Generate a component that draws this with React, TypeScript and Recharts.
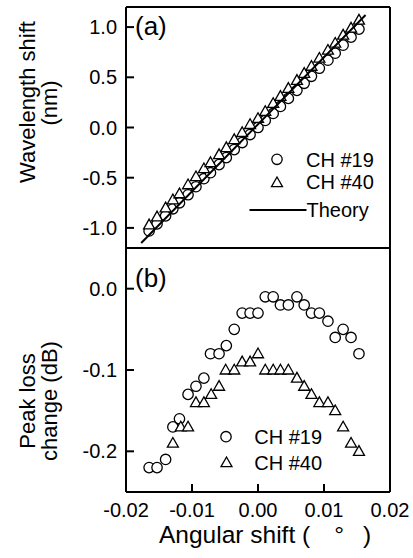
import React from 'react';
import { ComposedChart, Scatter, XAxis, YAxis, Legend } from 'recharts';

// ---------- data ----------
const angleShift = [-0.0165, -0.0153, -0.014, -0.0129, -0.0119, -0.0106, -0.0094, -0.0082, -0.0072, -0.0059, -0.0048, -0.0036, -0.0024, -0.0012, 0.0, 0.0011, 0.0023, 0.0034, 0.0046, 0.0059, 0.007, 0.0081, 0.0093, 0.0106, 0.0117, 0.0129, 0.0141, 0.0153];
const shift19 = [-1.03, -0.96, -0.88, -0.81, -0.75, -0.67, -0.59, -0.51, -0.45, -0.37, -0.3, -0.22, -0.15, -0.07, 0.0, 0.07, 0.14, 0.21, 0.29, 0.37, 0.44, 0.51, 0.59, 0.67, 0.74, 0.82, 0.9, 0.98];
const shift40 = [-0.97, -0.89, -0.8, -0.72, -0.66, -0.57, -0.49, -0.41, -0.35, -0.27, -0.2, -0.12, -0.05, 0.03, 0.09, 0.16, 0.24, 0.31, 0.39, 0.47, 0.54, 0.61, 0.69, 0.77, 0.84, 0.92, 0.99, 1.07];
const theoryAngle = [-0.0177, 0.0163];
const theoryShift = [-1.15, 1.12];

const angle19 = [-0.0165, -0.0153, -0.014, -0.0129, -0.0119, -0.0106, -0.0094, -0.0082, -0.0072, -0.0059, -0.0048, -0.0036, -0.0024, -0.0012, 0.0, 0.0011, 0.0023, 0.0034, 0.0046, 0.0059, 0.007, 0.0081, 0.0093, 0.0106, 0.0117, 0.0129, 0.0141, 0.0153];
const loss19 = [-0.22, -0.22, -0.21, -0.17, -0.16, -0.13, -0.12, -0.11, -0.08, -0.08, -0.07, -0.05, -0.03, -0.03, -0.03, -0.01, -0.01, -0.02, -0.02, -0.01, -0.02, -0.03, -0.03, -0.04, -0.06, -0.05, -0.06, -0.08];
const angle40 = [-0.0129, -0.0117, -0.0106, -0.0094, -0.0082, -0.0071, -0.0059, -0.0049, -0.0036, -0.0024, -0.0012, 0.0, 0.0011, 0.0023, 0.0034, 0.0046, 0.0059, 0.007, 0.0081, 0.0093, 0.0106, 0.0117, 0.0129, 0.0141, 0.0153];
const loss40 = [-0.19, -0.17, -0.17, -0.14, -0.14, -0.13, -0.12, -0.1, -0.1, -0.09, -0.09, -0.08, -0.1, -0.1, -0.1, -0.1, -0.11, -0.12, -0.13, -0.14, -0.14, -0.15, -0.17, -0.19, -0.2];

const xMajor = [-0.02, -0.01, 0, 0.01, 0.02];
const xMinor = [-0.015, -0.005, 0.005, 0.015];
const xLabels = ['-0.02', '-0.01', '0.00', '0.01', '0.02'];
const topMajor = [-1, -0.5, 0, 0.5, 1];
const topMinor = [-0.75, -0.25, 0.25, 0.75];
const topLabels = ['-1.0', '-0.5', '0.0', '0.5', '1.0'];
const botMajor = [-0.2, -0.1, 0];
const botMinor = [-0.15, -0.05];
const botLabels = ['-0.2', '-0.1', '0.0'];

const zip = (xs: number[], ys: number[]) => xs.map((x, i) => ({ x, y: ys[i] }));

// ---------- styles ----------
const FONT = '"Liberation Sans", Arial, Helvetica, sans-serif';
const frame = { stroke: '#000', strokeWidth: 2 };
const MAJ = -8;
const MIN = -5;
const TINY = 0.01;
const X_DOMAIN: [number, number] = [-0.02, 0.02];
const MS = 1.3;

const CircleMark = (p: any) => (
  <circle cx={p.cx} cy={p.cy} r={5.2} fill="#fff" stroke="#000" strokeWidth={MS} />
);
const TriMark = (p: any) => (
  <polygon
    points={`${p.cx},${p.cy - 5.7} ${p.cx + 5.5},${p.cy + 4} ${p.cx - 5.5},${p.cy + 4}`}
    fill="#fff"
    stroke="#000"
    strokeWidth={MS}
  />
);
const NoMark = () => <g />;

const fmtFrom = (vals: number[], labels: string[]) => (v: number) => {
  const i = vals.findIndex((t) => Math.abs(t - v) < 1e-9);
  return i >= 0 ? labels[i] : '';
};

function frameAxes(yDomain: [number, number], yMaj: number[], yMin: number[], yLab: string[], showX: boolean) {
  const tickFont = { fill: '#000', fontSize: 20, fontFamily: FONT };
  return [
    <XAxis key="xb" xAxisId="main" type="number" dataKey="x" domain={X_DOMAIN} ticks={xMajor} interval={0} allowDataOverflow
      orientation="bottom" height={TINY} tickSize={MAJ} tickMargin={showX ? 19 : 0}
      tick={showX ? tickFont : false} tickFormatter={fmtFrom(xMajor, xLabels)} axisLine={frame} tickLine={frame} />,
    <XAxis key="xbm" xAxisId="xbm" type="number" domain={X_DOMAIN} ticks={xMinor} interval={0} allowDataOverflow
      orientation="bottom" height={TINY} tickSize={MIN} tick={false} axisLine={false} tickLine={frame} />,
    <XAxis key="xt" xAxisId="xt" type="number" domain={X_DOMAIN} ticks={xMajor} interval={0} allowDataOverflow
      orientation="top" height={TINY} tickSize={MAJ} tick={false} axisLine={frame} tickLine={frame} />,
    <XAxis key="xtm" xAxisId="xtm" type="number" domain={X_DOMAIN} ticks={xMinor} interval={0} allowDataOverflow
      orientation="top" height={TINY} tickSize={MIN} tick={false} axisLine={false} tickLine={frame} />,
    <YAxis key="yl" yAxisId="main" type="number" dataKey="y" domain={yDomain} ticks={yMaj} interval={0} allowDataOverflow
      orientation="left" width={TINY} tickSize={MAJ} tickMargin={17} tick={tickFont}
      tickFormatter={fmtFrom(yMaj, yLab)} axisLine={frame} tickLine={frame} />,
    <YAxis key="ylm" yAxisId="ylm" type="number" domain={yDomain} ticks={yMin} interval={0} allowDataOverflow
      orientation="left" width={TINY} tickSize={MIN} tick={false} axisLine={false} tickLine={frame} />,
    <YAxis key="yr" yAxisId="yr" type="number" domain={yDomain} ticks={yMaj} interval={0} allowDataOverflow
      orientation="right" width={TINY} tickSize={MAJ} tick={false} axisLine={frame} tickLine={frame} />,
    <YAxis key="yrm" yAxisId="yrm" type="number" domain={yDomain} ticks={yMin} interval={0} allowDataOverflow
      orientation="right" width={TINY} tickSize={MIN} tick={false} axisLine={false} tickLine={frame} />,
  ];
}

const legendText = { fontSize: 20, fontFamily: FONT, fill: '#000' } as const;

const TopLegend = () => (
  <svg width={150} height={90} style={{ display: 'block', overflow: 'visible' }}>
    {/* origin at (240,140) */}
    <circle cx={37} cy={19.3} r={5.2} fill="#fff" stroke="#000" strokeWidth={MS} />
    <text x={66} y={26.5} {...legendText}>CH #19</text>
    <polygon points={`37,${42.7 - 5.7} ${37 + 5.5},${42.7 + 4} ${37 - 5.5},${42.7 + 4}`} fill="#fff" stroke="#000" strokeWidth={MS} />
    <text x={66} y={49.3} {...legendText}>CH #40</text>
    <line x1={9.5} x2={66.5} y1={70} y2={70} stroke="#000" strokeWidth={2} />
    <text x={66.5} y={76.7} {...legendText}>Theory</text>
  </svg>
);

const BottomLegend = () => (
  <svg width={150} height={70} style={{ display: 'block', overflow: 'visible' }}>
    {/* origin at (200,420) */}
    <circle cx={26} cy={16.7} r={5.2} fill="#fff" stroke="#000" strokeWidth={MS} />
    <text x={54.3} y={24} {...legendText}>CH #19</text>
    <polygon points={`26.5,${42.7 - 5.7} ${26.5 + 5.5},${42.7 + 4} ${26.5 - 5.5},${42.7 + 4}`} fill="#fff" stroke="#000" strokeWidth={MS} />
    <text x={54.3} y={50} {...legendText}>CH #40</text>
  </svg>
);

export default function App() {
  const top19 = zip(angleShift, shift19);
  const top40 = zip(angleShift, shift40);
  const theory = zip(theoryAngle, theoryShift);
  const bot19 = zip(angle19, loss19);
  const bot40 = zip(angle40, loss40);

  return (
    <div style={{ position: 'absolute', left: 0, top: 0, width: 413, height: 558, background: '#fff', fontFamily: FONT }}>
      <div style={{ position: 'absolute', left: 0, top: 0 }}>
        <ComposedChart width={413} height={252} margin={{ top: 7, right: 23, bottom: 4, left: 126 }}>
          {frameAxes([-1.2, 1.2], topMajor, topMinor, topLabels, false)}
          <Scatter name="CH #19" data={top19} xAxisId="main" yAxisId="main" shape={CircleMark} isAnimationActive={false} />
          <Scatter name="CH #40" data={top40} xAxisId="main" yAxisId="main" shape={TriMark} isAnimationActive={false} />
          <Scatter name="Theory" data={theory} xAxisId="main" yAxisId="main" shape={NoMark} line={{ stroke: '#000', strokeWidth: 2 }} lineType="joint" isAnimationActive={false} />
          <Legend layout="horizontal" verticalAlign="middle" align="center" content={TopLegend}
            wrapperStyle={{ position: 'absolute', left: 240, top: 140, width: 150, height: 90, pointerEvents: 'none' }} />
        </ComposedChart>
      </div>
      <div style={{ position: 'absolute', left: 0, top: 238 }}>
        <ComposedChart width={413} height={320} margin={{ top: 10, right: 23, bottom: 66, left: 126 }}>
          {frameAxes([-0.25, 0.05], botMajor, botMinor, botLabels, true)}
          <Scatter name="CH #19" data={bot19} xAxisId="main" yAxisId="main" shape={CircleMark} isAnimationActive={false} />
          <Scatter name="CH #40" data={bot40} xAxisId="main" yAxisId="main" shape={TriMark} isAnimationActive={false} />
          <Legend layout="horizontal" verticalAlign="middle" align="center" content={BottomLegend}
            wrapperStyle={{ position: 'absolute', left: 200, top: 182, width: 150, height: 70, pointerEvents: 'none' }} />
        </ComposedChart>
      </div>
      <svg width={413} height={558} style={{ position: 'absolute', left: 0, top: 0, pointerEvents: 'none' }}>
        <text x={135} y={35} fontSize={26} fontFamily={FONT} fill="#000">(a)</text>
        <text x={135} y={287} fontSize={26} fontFamily={FONT} fill="#000">(b)</text>
        <g fontSize={22} fontFamily={FONT} fill="#000" textAnchor="middle">
          <text transform="translate(35,102) rotate(-90)">Wavelength shift</text>
          <text transform="translate(57,103) rotate(-90)">(nm)</text>
          <text transform="translate(35,401) rotate(-90)">Peak loss</text>
          <text transform="translate(57,401) rotate(-90)">change (dB)</text>
        </g>
        <text x={159} y={542.7} fontSize={24.5} fontFamily={FONT} fill="#000">
          Angular shift (<tspan dx={24}>°</tspan><tspan dx={19}>)</tspan>
        </text>
      </svg>
    </div>
  );
}
